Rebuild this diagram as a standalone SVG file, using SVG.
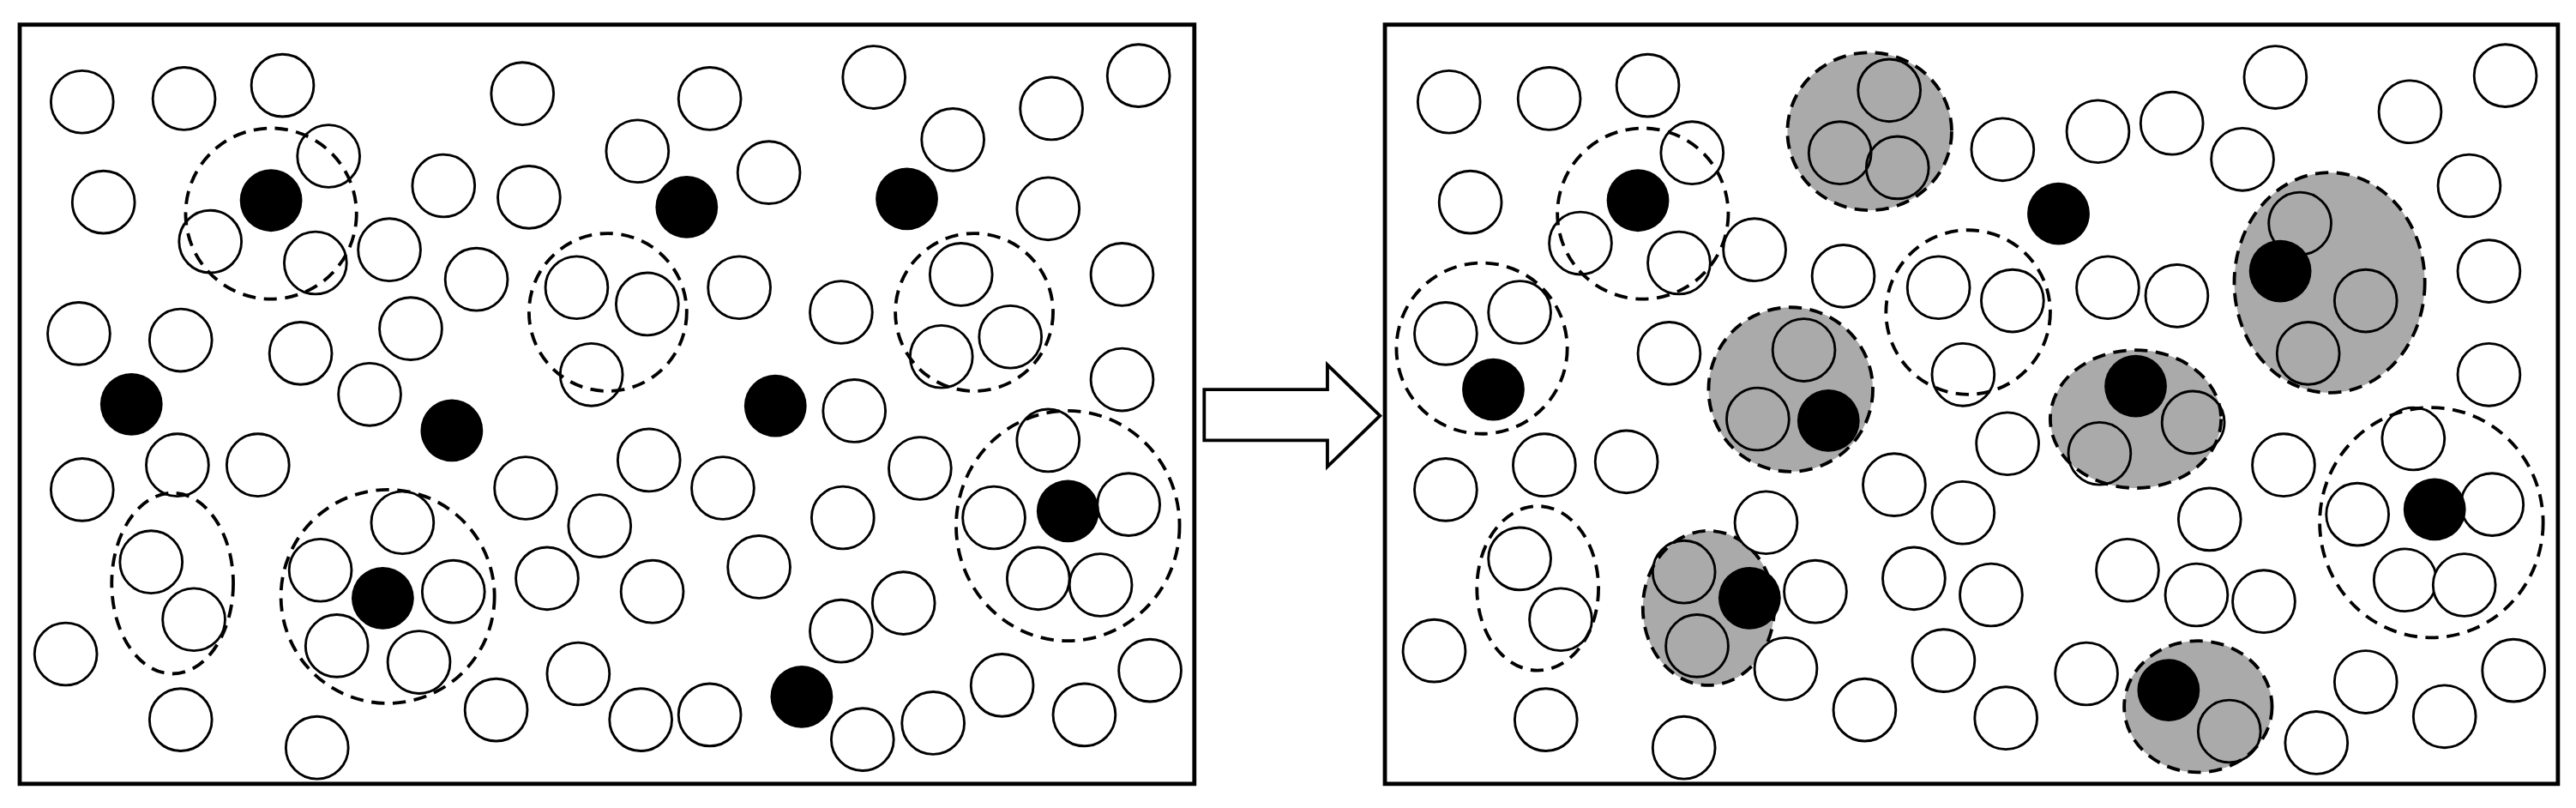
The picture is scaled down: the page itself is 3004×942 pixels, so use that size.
<svg xmlns="http://www.w3.org/2000/svg" width="3004" height="942" viewBox="0 0 3004 942">
<style>
.w{fill:#fff;stroke:#000;stroke-width:1.5}
.b{fill:#000}
.d{fill:none;stroke:#000;stroke-width:2;stroke-dasharray:8 5}
.g{fill:#aaa;stroke:#000;stroke-width:2;stroke-dasharray:8 5}
.f{fill:none;stroke:#000;stroke-width:2.5}
</style>
<rect width="3004" height="942" fill="#fff"/>
<g transform="scale(1.9158)">
<g id="left-panel">
<rect class="f" x="12" y="15" width="715" height="462"/>
<g fill="#fff">
<circle class="w" cx="50" cy="62" r="19"/><circle class="w" cx="112" cy="60" r="19"/><circle class="w" cx="172" cy="52" r="19"/><circle class="w" cx="318" cy="57" r="19"/><circle class="w" cx="432" cy="60" r="19"/><circle class="w" cx="532" cy="47" r="19"/><circle class="w" cx="640" cy="66" r="19"/><circle class="w" cx="693" cy="46" r="19"/>
<circle class="w" cx="200" cy="95" r="19"/><circle class="w" cx="388" cy="92" r="19"/><circle class="w" cx="580" cy="85" r="19"/><circle class="w" cx="468" cy="105" r="19"/>
<circle class="w" cx="63" cy="123" r="19"/><circle class="w" cx="270" cy="113" r="19"/><circle class="w" cx="322" cy="120" r="19"/><circle class="w" cx="638" cy="127" r="19"/>
<circle class="w" cx="128" cy="147" r="19"/><circle class="w" cx="192" cy="160" r="19"/><circle class="w" cx="237" cy="152" r="19"/><circle class="w" cx="290" cy="170" r="19"/><circle class="w" cx="351" cy="175" r="19"/><circle class="w" cx="394" cy="185" r="19"/><circle class="w" cx="450" cy="175" r="19"/><circle class="w" cx="512" cy="190" r="19"/><circle class="w" cx="585" cy="167" r="19"/><circle class="w" cx="683" cy="167" r="19"/>
<circle class="w" cx="48" cy="203" r="19"/><circle class="w" cx="110" cy="207" r="19"/><circle class="w" cx="183" cy="215" r="19"/><circle class="w" cx="250" cy="200" r="19"/><circle class="w" cx="360" cy="228" r="19"/><circle class="w" cx="573" cy="217" r="19"/><circle class="w" cx="615" cy="205" r="19"/><circle class="w" cx="683" cy="231" r="19"/>
<circle class="w" cx="225" cy="240" r="19"/><circle class="w" cx="520" cy="250" r="19"/>
<circle class="w" cx="638" cy="268" r="19"/><circle class="w" cx="108" cy="283" r="19"/><circle class="w" cx="157" cy="283" r="19"/><circle class="w" cx="320" cy="297" r="19"/><circle class="w" cx="395" cy="280" r="19"/><circle class="w" cx="440" cy="297" r="19"/><circle class="w" cx="560" cy="285" r="19"/><circle class="w" cx="50" cy="298" r="19"/>
<circle class="w" cx="245" cy="318" r="19"/><circle class="w" cx="365" cy="320" r="19"/><circle class="w" cx="513" cy="315" r="19"/><circle class="w" cx="605" cy="315" r="19"/><circle class="w" cx="687" cy="307" r="19"/>
<circle class="w" cx="92" cy="342" r="19"/><circle class="w" cx="195" cy="347" r="19"/><circle class="w" cx="276" cy="360" r="19"/><circle class="w" cx="333" cy="352" r="19"/><circle class="w" cx="397" cy="360" r="19"/><circle class="w" cx="462" cy="345" r="19"/><circle class="w" cx="632" cy="352" r="19"/><circle class="w" cx="670" cy="356" r="19"/>
<circle class="w" cx="118" cy="377" r="19"/><circle class="w" cx="205" cy="393" r="19"/><circle class="w" cx="255" cy="403" r="19"/><circle class="w" cx="550" cy="367" r="19"/><circle class="w" cx="512" cy="384" r="19"/>
<circle class="w" cx="40" cy="398" r="19"/><circle class="w" cx="352" cy="410" r="19"/><circle class="w" cx="302" cy="432" r="19"/><circle class="w" cx="390" cy="438" r="19"/><circle class="w" cx="432" cy="435" r="19"/><circle class="w" cx="610" cy="417" r="19"/><circle class="w" cx="660" cy="435" r="19"/><circle class="w" cx="700" cy="408" r="19"/>
<circle class="w" cx="110" cy="438" r="19"/><circle class="w" cx="193" cy="455" r="19"/><circle class="w" cx="525" cy="450" r="19"/><circle class="w" cx="568" cy="440" r="19"/>
</g>
<circle class="b" cx="165" cy="122" r="19"/><circle class="b" cx="418" cy="126" r="19"/><circle class="b" cx="552" cy="121" r="19"/><circle class="b" cx="80" cy="246" r="19"/><circle class="b" cx="275" cy="262" r="19"/><circle class="b" cx="472" cy="247" r="19"/><circle class="b" cx="650" cy="311" r="19"/><circle class="b" cx="233" cy="364" r="19"/><circle class="b" cx="488" cy="424" r="19"/>
<circle class="d" cx="165" cy="130" r="52"/><circle class="d" cx="370" cy="190" r="48"/><circle class="d" cx="593" cy="190" r="48"/><ellipse class="d" cx="650" cy="320" rx="68" ry="70"/><ellipse class="d" cx="105" cy="355" rx="37" ry="55"/><circle class="d" cx="236" cy="363" r="65"/>
</g>
<g id="arrow">
<path d="M733 237 H808 V222 L840 253 L808 284 V268 H733 Z" fill="#fff" stroke="#000" stroke-width="2"/>
</g>
<g id="right-panel">
<rect class="f" x="843" y="15" width="714" height="462"/>
<ellipse class="g" cx="1138" cy="80" rx="50" ry="48"/><ellipse class="g" cx="1090" cy="237" rx="50" ry="50"/><ellipse class="g" cx="1418" cy="172" rx="58" ry="67"/><ellipse class="g" cx="1300" cy="255" rx="52" ry="42"/><ellipse class="g" cx="1040" cy="370" rx="40" ry="47"/><ellipse class="g" cx="1338" cy="430" rx="45" ry="40"/>
<circle class="w" cx="1150" cy="55" r="19" fill="none" style="fill:none"/><circle class="w" cx="1120" cy="93" r="19" style="fill:none"/><circle class="w" cx="1155" cy="102" r="19" style="fill:none"/>
<circle class="w" cx="1098" cy="213" r="19" style="fill:none"/><circle class="w" cx="1070" cy="255" r="19" style="fill:none"/>
<circle class="w" cx="1400" cy="136" r="19" style="fill:none"/><circle class="w" cx="1440" cy="183" r="19" style="fill:none"/><circle class="w" cx="1405" cy="215" r="19" style="fill:none"/>
<circle class="w" cx="1278" cy="276" r="19" style="fill:none"/><circle class="w" cx="1335" cy="257" r="19" style="fill:none"/>
<circle class="w" cx="1025" cy="348" r="19" style="fill:none"/><circle class="w" cx="1033" cy="393" r="19" style="fill:none"/>
<circle class="w" cx="1357" cy="445" r="19" style="fill:none"/>
<circle class="w" cx="882" cy="62" r="19"/><circle class="w" cx="943" cy="60" r="19"/><circle class="w" cx="1003" cy="52" r="19"/><circle class="w" cx="1030" cy="93" r="19"/><circle class="w" cx="1219" cy="91" r="19"/><circle class="w" cx="1277" cy="80" r="19"/><circle class="w" cx="1322" cy="75" r="19"/><circle class="w" cx="1385" cy="47" r="19"/><circle class="w" cx="1467" cy="68" r="19"/><circle class="w" cx="1525" cy="46" r="19"/><circle class="w" cx="1365" cy="97" r="19"/>
<circle class="w" cx="895" cy="123" r="19"/><circle class="w" cx="1503" cy="113" r="19"/><circle class="w" cx="962" cy="148" r="19"/><circle class="w" cx="1022" cy="160" r="19"/><circle class="w" cx="1068" cy="152" r="19"/><circle class="w" cx="1122" cy="168" r="19"/><circle class="w" cx="1180" cy="175" r="19"/><circle class="w" cx="1225" cy="183" r="19"/><circle class="w" cx="1283" cy="175" r="19"/><circle class="w" cx="1325" cy="180" r="19"/><circle class="w" cx="1515" cy="165" r="19"/>
<circle class="w" cx="880" cy="203" r="19"/><circle class="w" cx="925" cy="190" r="19"/><circle class="w" cx="1016" cy="215" r="19"/><circle class="w" cx="1195" cy="228" r="19"/><circle class="w" cx="1515" cy="228" r="19"/>
<circle class="w" cx="940" cy="283" r="19"/><circle class="w" cx="990" cy="281" r="19"/><circle class="w" cx="880" cy="298" r="19"/><circle class="w" cx="1153" cy="295" r="19"/><circle class="w" cx="1195" cy="312" r="19"/><circle class="w" cx="1222" cy="270" r="19"/><circle class="w" cx="1390" cy="283" r="19"/><circle class="w" cx="1469" cy="267" r="19"/>
<circle class="w" cx="1075" cy="318" r="19"/><circle class="w" cx="1345" cy="316" r="19"/><circle class="w" cx="1435" cy="313" r="19"/><circle class="w" cx="1517" cy="307" r="19"/>
<circle class="w" cx="925" cy="340" r="19"/><circle class="w" cx="1105" cy="360" r="19"/><circle class="w" cx="1165" cy="352" r="19"/><circle class="w" cx="1212" cy="362" r="19"/><circle class="w" cx="1295" cy="347" r="19"/><circle class="w" cx="1337" cy="362" r="19"/><circle class="w" cx="1378" cy="366" r="19"/><circle class="w" cx="1464" cy="353" r="19"/><circle class="w" cx="1500" cy="356" r="19"/>
<circle class="w" cx="950" cy="377" r="19"/><circle class="w" cx="1087" cy="407" r="19"/><circle class="w" cx="1183" cy="402" r="19"/><circle class="w" cx="1270" cy="410" r="19"/>
<circle class="w" cx="873" cy="396" r="19"/><circle class="w" cx="1135" cy="432" r="19"/><circle class="w" cx="1221" cy="437" r="19"/><circle class="w" cx="1410" cy="452" r="19"/><circle class="w" cx="1440" cy="415" r="19"/><circle class="w" cx="1488" cy="436" r="19"/><circle class="w" cx="1530" cy="408" r="19"/>
<circle class="w" cx="941" cy="438" r="19"/><circle class="w" cx="1025" cy="455" r="19"/>
<circle class="b" cx="997" cy="122" r="19"/><circle class="b" cx="1253" cy="130" r="19"/><circle class="b" cx="1388" cy="165" r="19"/><circle class="b" cx="909" cy="237" r="19"/><circle class="b" cx="1113" cy="256" r="19"/><circle class="b" cx="1300" cy="235" r="19"/><circle class="b" cx="1482" cy="310" r="19"/><circle class="b" cx="1065" cy="364" r="19"/><circle class="b" cx="1320" cy="420" r="19"/>
<circle class="d" cx="1000" cy="130" r="52"/><circle class="d" cx="1198" cy="190" r="50"/><circle class="d" cx="902" cy="212" r="52"/><ellipse class="d" cx="1480" cy="318" rx="68" ry="70"/><ellipse class="d" cx="936" cy="358" rx="37" ry="50"/>
</g>
</g>
</svg>
